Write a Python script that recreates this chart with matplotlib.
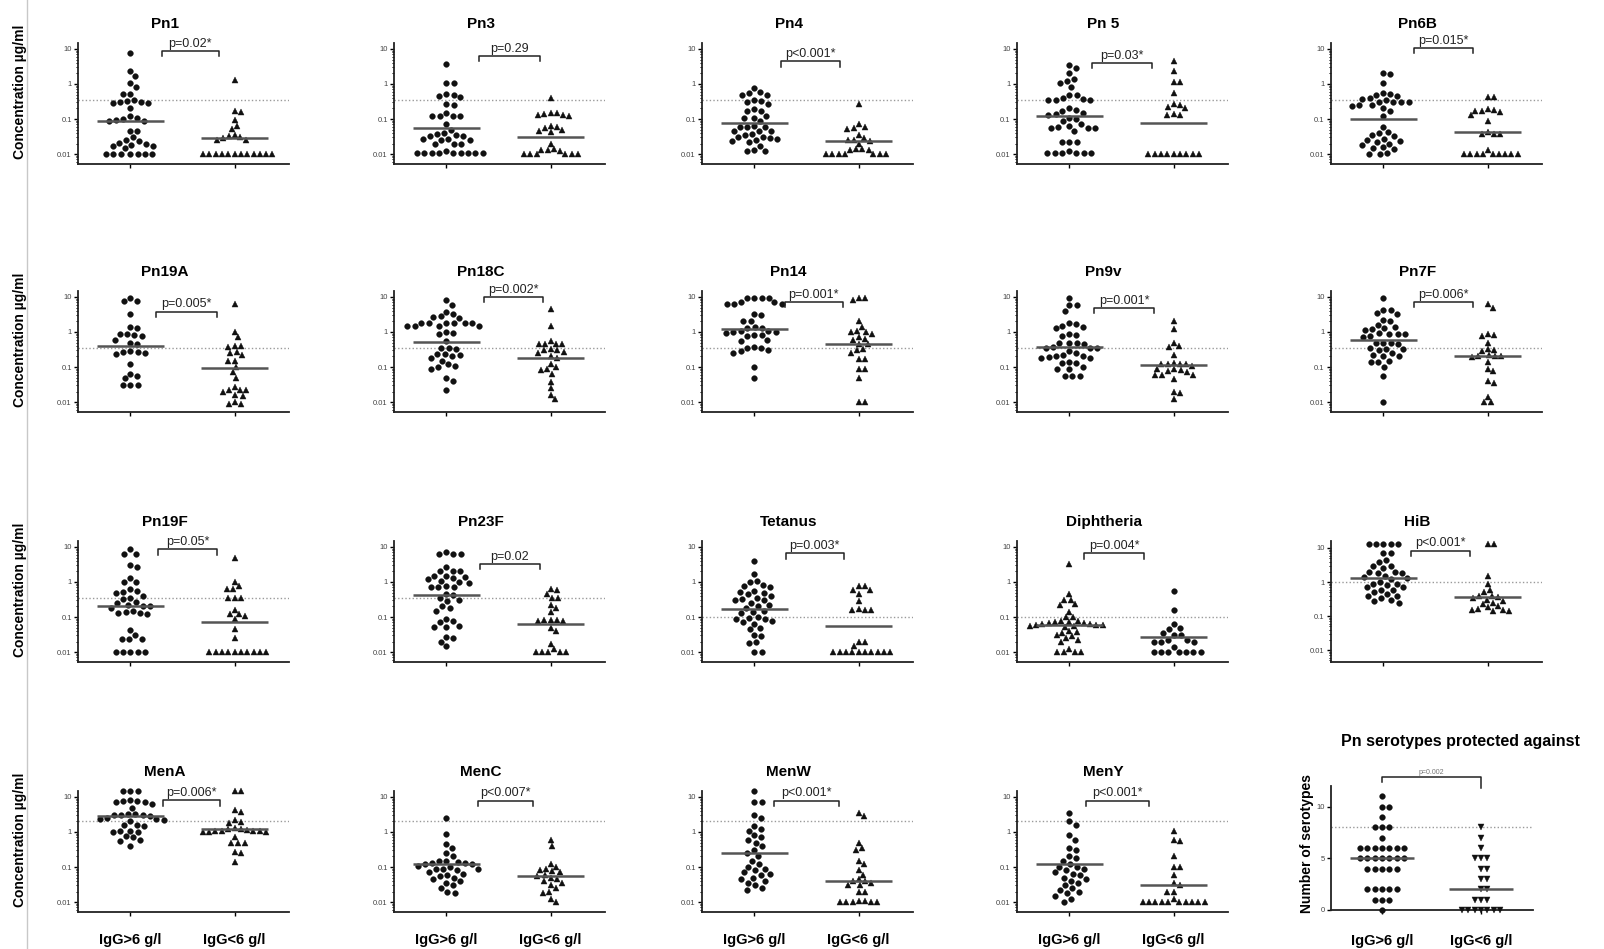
import numpy as np
import matplotlib
matplotlib.use("Agg")
import matplotlib.pyplot as plt
from matplotlib.lines import Line2D

plt.rcParams['font.family'] = ['Liberation Sans', 'DejaVu Sans']

#---------------- DATA ----------------

titles = ["Pn1", "Pn3", "Pn4", "Pn 5", "Pn6B",
          "Pn19A", "Pn18C", "Pn14", "Pn9v", "Pn7F",
          "Pn19F", "Pn23F", "Tetanus", "Diphtheria", "HiB",
          "MenA", "MenC", "MenW", "MenY"]
pvals = ["p=0.02*", "p=0.29", "p<0.001*", "p=0.03*", "p=0.015*",
         "p=0.005*", "p=0.002*", "p=0.001*", "p=0.001*", "p=0.006*",
         "p=0.05*", "p=0.02", "p=0.003*", "p=0.004*", "p<0.001*",
         "p=0.006*", "p<0.007*", "p<0.001*", "p<0.001*"]
thresholds = [0.35, 0.35, 0.35, 0.35, 0.35,
              0.35, 0.35, 0.35, 0.35, 0.35,
              0.35, 0.35, 0.1, 0.1, 1.0,
              2.0, 2.0, 2.0, 2.0]
median_hi = [0.085, 0.055, 0.075, 0.12, 0.1,
             0.4, 0.52, 1.2, 0.38, 0.6,
             0.2, 0.42, 0.17, 0.06, 1.35,
             2.8, 0.12, 0.25, 0.12]
median_lo = [0.028, 0.03, 0.023, 0.075, 0.043,
             0.095, 0.18, 0.45, 0.115, 0.2,
             0.072, 0.065, 0.055, 0.027, 0.37,
             1.2, 0.055, 0.04, 0.03]

pn1_hi = [7.5, 2.4, 1.7, 1.05, 0.82, 0.52, 0.52, 0.35, 0.33, 0.31, 0.30, 0.28, 0.28, 0.2,
          0.12, 0.1, 0.105, 0.095, 0.09, 0.085, 0.047, 0.045, 0.03, 0.025, 0.024, 0.021,
          0.019, 0.018, 0.017, 0.017, 0.015] + [0.01] * 7
pn1_lo = [1.3, 0.17, 0.16, 0.095, 0.065, 0.052, 0.036, 0.033, 0.03, 0.028, 0.026, 0.025] + [0.01] * 12

pn3_hi = [3.8, 1.1, 1.1, 0.52, 0.45, 0.42, 0.5, 0.26, 0.25, 0.15, 0.12, 0.12, 0.12, 0.12,
          0.07, 0.048, 0.04, 0.038, 0.035, 0.033, 0.033, 0.027, 0.026, 0.025, 0.027,
          0.02, 0.02, 0.02, 0.012] + [0.011] * 9
pn3_lo = [0.4, 0.15, 0.14, 0.13, 0.12, 0.13, 0.15, 0.06, 0.065, 0.055, 0.045, 0.042, 0.048,
          0.02, 0.013, 0.012, 0.013, 0.014] + [0.01] * 6

pn4_hi = [0.75, 0.58, 0.55, 0.5, 0.48, 0.34, 0.32, 0.3, 0.26, 0.19, 0.17, 0.17, 0.12, 0.11,
          0.11, 0.085, 0.065, 0.06, 0.06, 0.058, 0.045, 0.045, 0.045, 0.038, 0.035, 0.03,
          0.03, 0.028, 0.027, 0.025, 0.024, 0.022, 0.017, 0.012, 0.012, 0.013]
pn4_lo = [0.26, 0.07, 0.06, 0.055, 0.052, 0.035, 0.028, 0.026, 0.025, 0.024, 0.02, 0.014,
          0.013, 0.013, 0.014] + [0.01] * 7

pn5_hi = [3.5, 2.8, 2.0, 1.4, 1.2, 1.1, 0.8, 0.5, 0.48, 0.36, 0.35, 0.36, 0.38, 0.4, 0.18,
          0.2, 0.17, 0.14, 0.13, 0.15, 0.11, 0.1, 0.085, 0.065, 0.07, 0.06, 0.055, 0.055,
          0.055, 0.045, 0.022, 0.022, 0.022, 0.012] + [0.011] * 6
pn5_lo = [4.5, 2.3, 1.15, 1.15, 0.55, 0.25, 0.22, 0.2, 0.27, 0.13, 0.13, 0.14] + [0.01] * 9

pn6b_hi = [2.1, 1.9, 1.1, 0.55, 0.52, 0.5, 0.45, 0.4, 0.38, 0.35, 0.3, 0.3, 0.3, 0.3, 0.25,
           0.25, 0.24, 0.2, 0.17, 0.12, 0.06, 0.042, 0.04, 0.035, 0.033, 0.027, 0.025,
           0.024, 0.022, 0.02, 0.018, 0.016, 0.015, 0.014, 0.01, 0.011, 0.01]
pn6b_lo = [0.42, 0.42, 0.18, 0.17, 0.19, 0.16, 0.17, 0.13, 0.085, 0.042, 0.038, 0.038,
           0.038, 0.013] + [0.01] * 9

pn19a_hi = [9.5, 7.5, 7.5, 3.2, 1.4, 1.3, 0.9, 0.85, 0.8, 0.75, 0.6, 0.5, 0.45, 0.27, 0.27,
            0.25, 0.23, 0.28, 0.12, 0.065, 0.055, 0.048, 0.03, 0.03, 0.03]
pn19a_lo = [6.5, 1.0, 0.7, 0.4, 0.4, 0.38, 0.27, 0.25, 0.22, 0.15, 0.15, 0.1, 0.07, 0.05,
            0.027, 0.022, 0.022, 0.022, 0.02, 0.016, 0.015, 0.01, 0.009, 0.009]

pn18c_hi = [8.0, 6.0, 3.8, 3.2, 2.8, 2.5, 2.6, 1.8, 1.8, 1.8, 1.8, 1.8, 1.8, 1.5, 1.5, 1.5,
            1.5, 1.0, 0.95, 0.85, 0.55, 0.35, 0.35, 0.33, 0.24, 0.23, 0.22, 0.2, 0.18,
            0.15, 0.12, 0.11, 0.1, 0.09, 0.05, 0.04, 0.022]
pn18c_lo = [4.5, 1.5, 0.55, 0.45, 0.45, 0.45, 0.45, 0.33, 0.3, 0.3, 0.27, 0.25, 0.2, 0.18,
            0.12, 0.1, 0.08, 0.085, 0.065, 0.038, 0.025, 0.016, 0.012]

pn14_hi = [9.5, 9.5, 9.5, 9.5, 7.0, 6.5, 6.5, 6.5, 7.0, 3.2, 3.0, 2.1, 2.0, 1.4, 1.3, 1.3,
           1.1, 1.05, 1.0, 1.0, 0.95, 0.8, 0.8, 0.75, 0.6, 0.55, 0.38, 0.35, 0.35, 0.3,
           0.28, 0.25, 0.1, 0.05]
pn14_lo = [9.5, 8.0, 9.5, 2.0, 1.4, 1.1, 1.0, 1.0, 0.9, 0.7, 0.65, 0.6, 0.45, 0.45, 0.33,
           0.3, 0.25, 0.17, 0.17, 0.085, 0.085, 0.05, 0.01, 0.01]

pn9v_hi = [9.5, 5.8, 5.8, 3.9, 1.7, 1.5, 1.8, 1.4, 1.3, 0.85, 0.8, 0.75, 0.5, 0.48, 0.48,
           0.45, 0.38, 0.36, 0.35, 0.35, 0.28, 0.25, 0.22, 0.2, 0.19, 0.18, 0.2, 0.18,
           0.14, 0.13, 0.13, 0.1, 0.09, 0.085, 0.055, 0.055, 0.055]
pn9v_lo = [2.0, 1.2, 0.5, 0.4, 0.38, 0.22, 0.13, 0.12, 0.12, 0.11, 0.12, 0.12, 0.09, 0.085,
           0.08, 0.075, 0.07, 0.06, 0.06, 0.06, 0.045, 0.02, 0.018, 0.012]

pn7f_hi = [9.5, 4.3, 4.3, 3.5, 3.3, 2.2, 2.0, 1.6, 1.4, 1.3, 1.2, 1.15, 0.9, 0.95, 0.9, 0.85,
           0.75, 0.7, 0.5, 0.48, 0.5, 0.45, 0.35, 0.33, 0.32, 0.3, 0.25, 0.22, 0.21, 0.2,
           0.15, 0.14, 0.14, 0.1, 0.055, 0.01]
pn7f_lo = [6.5, 5.0, 0.9, 0.8, 0.75, 0.5, 0.3, 0.28, 0.33, 0.22, 0.2, 0.2, 0.19, 0.2, 0.14,
           0.09, 0.075, 0.04, 0.036, 0.014, 0.01, 0.01]

pn19f_hi = [8.5, 6.5, 6.5, 3.0, 2.6, 1.3, 1.0, 1.0, 0.62, 0.55, 0.52, 0.5, 0.4, 0.35, 0.32,
            0.27, 0.25, 0.22, 0.2, 0.18, 0.21, 0.14, 0.13, 0.12, 0.13, 0.15, 0.042, 0.03,
            0.023, 0.023, 0.024] + [0.01] * 5
pn19f_lo = [5.0, 1.0, 0.75, 0.65, 0.65, 0.35, 0.35, 0.35, 0.16, 0.12, 0.11, 0.12, 0.085,
            0.045, 0.025] + [0.01] * 10

pn23f_hi = [7.0, 6.5, 6.2, 6.5, 2.6, 2.1, 2.1, 2.0, 1.5, 1.4, 1.3, 1.5, 1.2, 1.0, 0.95, 1.1,
            0.75, 0.7, 0.72, 0.7, 0.45, 0.42, 0.35, 0.3, 0.28, 0.2, 0.18, 0.15, 0.085,
            0.075, 0.07, 0.052, 0.052, 0.055, 0.027, 0.025, 0.02, 0.015]
pn23f_lo = [0.62, 0.6, 0.45, 0.35, 0.34, 0.22, 0.18, 0.14, 0.08, 0.08, 0.075, 0.08, 0.075,
            0.05, 0.04, 0.017, 0.012] + [0.01] * 5

tet_hi = [4.0, 1.7, 1.1, 1.0, 0.8, 0.75, 0.7, 0.55, 0.52, 0.5, 0.45, 0.4, 0.35, 0.32, 0.3,
          0.3, 0.25, 0.22, 0.2, 0.18, 0.15, 0.13, 0.14, 0.1, 0.095, 0.09, 0.09, 0.075, 0.07,
          0.065, 0.05, 0.045, 0.03, 0.028, 0.019, 0.018, 0.01, 0.01]
tet_lo = [0.75, 0.75, 0.6, 0.6, 0.45, 0.28, 0.17, 0.16, 0.16, 0.16, 0.02, 0.02, 0.015] + [0.01] * 10

dip_hi = [3.2, 0.45, 0.3, 0.3, 0.23, 0.22, 0.14, 0.1, 0.1, 0.078, 0.072, 0.068, 0.065,
          0.07, 0.063, 0.075, 0.066, 0.06, 0.058, 0.06, 0.055, 0.053, 0.056, 0.04, 0.038,
          0.036, 0.03, 0.028, 0.025, 0.022, 0.02, 0.012, 0.01, 0.01, 0.01, 0.01]
dip_lo = [0.55, 0.16, 0.065, 0.05, 0.045, 0.035, 0.03, 0.03, 0.022, 0.02, 0.02, 0.02, 0.022,
          0.014] + [0.01] * 7

hib_hi = [13, 13, 13, 13, 13, 7, 7, 4, 4.5, 3, 3, 2.5, 2, 2, 1.8, 1.8, 1.5, 1.4, 1.3, 1.2,
          1.0, 0.9, 0.9, 0.8, 0.7, 0.7, 0.6, 0.6, 0.5, 0.45, 0.4, 0.4, 0.35, 0.3, 0.28, 0.25]
hib_lo = [13, 13, 1.5, 0.9, 0.6, 0.5, 0.4, 0.38, 0.36, 0.35, 0.3, 0.28, 0.25, 0.22, 0.2,
          0.18, 0.16, 0.15, 0.15, 0.14, 0.14]

mena_hi = [15, 15, 15, 8, 7.5, 7.5, 7, 7, 6.5, 5, 3.3, 3.0, 3.0, 2.9, 3.2, 3.0, 2.5, 2.3,
           2.0, 2.3, 2.2, 1.6, 1.6, 1.5, 1.1, 1.0, 1.0, 1.05, 0.75, 0.7, 0.6, 0.55, 0.4]
mena_lo = [15, 15, 4.2, 3.8, 2.2, 1.9, 1.8, 1.3, 1.25, 1.2, 1.15, 1.1, 1.05, 1.0, 1.0, 1.0,
           1.05, 1.1, 0.7, 0.5, 0.5, 0.48, 0.27, 0.25, 0.14]

menc_hi = [2.5, 0.9, 0.45, 0.35, 0.25, 0.2, 0.15, 0.15, 0.13, 0.12, 0.11, 0.14, 0.12, 0.13,
           0.1, 0.09, 0.09, 0.085, 0.08, 0.07, 0.065, 0.06, 0.055, 0.05, 0.045, 0.04, 0.035,
           0.03, 0.025, 0.02, 0.018]
menc_lo = [0.6, 0.4, 0.12, 0.1, 0.09, 0.08, 0.07, 0.075, 0.06, 0.055, 0.05, 0.045, 0.04,
           0.035, 0.03, 0.025, 0.02, 0.018, 0.012, 0.01]

menw_hi = [15, 7, 7, 3, 2.5, 1.5, 1.2, 1.1, 0.8, 0.7, 0.6, 0.5, 0.4, 0.3, 0.25, 0.2, 0.15,
           0.12, 0.1, 0.09, 0.08, 0.07, 0.065, 0.06, 0.05, 0.045, 0.04, 0.035, 0.03, 0.025,
           0.022]
menw_lo = [3.5, 2.8, 0.5, 0.35, 0.3, 0.15, 0.12, 0.08, 0.06, 0.045, 0.04, 0.04, 0.035, 0.03,
           0.03, 0.02, 0.02, 0.011, 0.01, 0.01, 0.01, 0.01, 0.01, 0.011]

meny_hi = [3.5, 2.0, 1.6, 0.8, 0.6, 0.35, 0.3, 0.2, 0.18, 0.15, 0.12, 0.1, 0.1, 0.09, 0.08,
           0.07, 0.065, 0.06, 0.05, 0.045, 0.04, 0.035, 0.03, 0.025, 0.022, 0.02, 0.018,
           0.015, 0.012, 0.01]
meny_lo = [1.1, 0.6, 0.55, 0.2, 0.1, 0.1, 0.06, 0.035, 0.03, 0.02, 0.02, 0.012] + [0.01] * 10

groups_hi = [pn1_hi, pn3_hi, pn4_hi, pn5_hi, pn6b_hi, pn19a_hi, pn18c_hi, pn14_hi, pn9v_hi,
             pn7f_hi, pn19f_hi, pn23f_hi, tet_hi, dip_hi, hib_hi, mena_hi, menc_hi, menw_hi,
             meny_hi]
groups_lo = [pn1_lo, pn3_lo, pn4_lo, pn5_lo, pn6b_lo, pn19a_lo, pn18c_lo, pn14_lo, pn9v_lo,
             pn7f_lo, pn19f_lo, pn23f_lo, tet_lo, dip_lo, hib_lo, mena_lo, menc_lo, menw_lo,
             meny_lo]

# Pn serotypes protected against (number of serotypes per patient)
sero_hi = [11, 10, 10, 9, 8, 8, 8, 7, 6, 6, 6, 6, 6, 6, 6, 5, 5, 5, 5, 5, 5, 5,
           4, 4, 4, 4, 4, 2, 2, 2, 2, 2, 1, 1, 1, 0]
sero_lo = [8, 7, 6, 5, 5, 5, 4, 4, 3, 3, 2, 2, 1, 1, 1, 0, 0, 0, 0, 0, 0, 0]
sero_median = [5, 2]

xlabels = ["IgG>6 g/l", "IgG<6 g/l"]

# annotation placement (bracket x range in group units, bracket height in axes fraction)
bracket_x = [(0.30, 0.85), (0.31, 0.90), (0.26, 0.82), (0.22, 0.79), (0.29, 0.86),
             (0.25, 0.83), (0.36, 0.93), (0.29, 0.85), (0.24, 0.81), (0.29, 0.86),
             (0.27, 0.83), (0.32, 0.90), (0.30, 0.86), (0.14, 0.72), (0.27, 0.83),
             (0.31, 0.86), (0.30, 0.83), (0.19, 0.81), (0.16, 0.76)]
bracket_y = [0.934, 0.893, 0.85, 0.835, 0.96,
             0.83, 0.95, 0.91, 0.86, 0.91,
             0.93, 0.81, 0.90, 0.90, 0.92,
             0.925, 0.92, 0.92, 0.92]

#---------------- HELPERS ----------------

W, H = 1604, 949
col_left = [78, 394, 702, 1017, 1331]
row_bottom = [164, 412, 662, 912]
AX_W, AX_H = 211, 121


def swarm_x(ax, vals, center, d):
    # simple beeswarm in pixel space
    pts = ax.transData.transform(np.column_stack([np.full(len(vals), center), vals]))
    ys = pts[:, 1]
    xc = pts[0, 0]
    xs = np.zeros(len(vals))
    placed = []
    for i in np.argsort(-ys, kind="stable"):
        y = ys[i]
        cands = [0.0]
        for px, py in placed:
            dy = y - py
            if abs(dy) < d:
                dx = np.sqrt(d * d - dy * dy)
                cands += [px + dx, px - dx]
        cands.sort(key=lambda c: (round(abs(c), 3), -c))
        for c in cands:
            if all((c - px) ** 2 + (y - py) ** 2 >= d * d - 1e-6 for px, py in placed):
                xs[i] = c
                break
        placed.append((xs[i], y))
    inv = ax.transData.inverted()
    return inv.transform(np.column_stack([xc + xs, ys]))[:, 0]


def draw_group(ax, vals, center, marker, median):
    if marker == "o":
        d, ms = 7.3, 4.1
    else:
        d, ms = 6.3, 4.5
    xs = swarm_x(ax, vals, center, d)
    ax.plot(xs, vals, ls="none", marker=marker, ms=ms, color="#111111",
            mec="#111111", mew=0.3, clip_on=False, zorder=3)
    ax.plot([center - 0.32, center + 0.32], [median, median], color="#555555",
            lw=1.8, zorder=4, solid_capstyle="butt")


def style_axes(ax):
    for s in ["top", "right"]:
        ax.spines[s].set_visible(False)
    for s in ["left", "bottom"]:
        ax.spines[s].set_linewidth(1.3)
        ax.spines[s].set_color("#222222")
    ax.tick_params(axis="y", which="major", length=3, width=1, labelsize=5.5,
                   labelcolor="#444444", pad=1.5)
    ax.tick_params(axis="y", which="minor", length=1.6, width=0.7)
    ax.tick_params(axis="x", length=3, width=1, labelsize=10.5, pad=12)


def bracket(ax, x0, x1, yf, text, leg_l=0.045, leg_r=0.045, fs=9, color="#222222"):
    tr = ax.get_xaxis_transform()
    ax.plot([x0, x0, x1, x1], [yf - leg_l, yf, yf, yf - leg_r], color="#222222",
            lw=1.1, transform=tr, clip_on=False, zorder=5)
    ax.text((x0 + x1) / 2, yf + 0.01, text, transform=tr, ha="center", va="bottom",
            fontsize=fs, color=color)


#---------------- FIGURE ----------------

fig = plt.figure(figsize=(W / 100, H / 100), dpi=100)
fig.add_artist(Line2D([27 / W, 27 / W], [0, 1], color="#c8c8c8", lw=1.0))

for k in range(19):
    r, c = divmod(k, 5)
    ax = fig.add_axes([col_left[c] / W, 1 - row_bottom[r] / H, AX_W / W, AX_H / H])
    ax.set_yscale("log")
    if titles[k] == "HiB":
        ax.set_ylim(0.0045, 16)
    else:
        ax.set_ylim(0.0052, 14.8)
    ax.set_xlim(-0.5, 1.52)
    ax.set_yticks([0.01, 0.1, 1, 10], ["0.01", "0.1", "1", "10"])
    ax.set_xticks([0, 1])
    if r == 3:
        ax.set_xticklabels(xlabels, fontweight="bold")
    else:
        ax.set_xticklabels(["", ""])
    style_axes(ax)

    ax.axhline(thresholds[k], color="#9a9a9a", lw=1.0, ls=(0, (1, 1.6)), zorder=1)

    m_hi, m_lo = "o", "^"
    if titles[k] == "Diphtheria":
        m_hi, m_lo = "^", "o"
    draw_group(ax, groups_hi[k], 0, m_hi, median_hi[k])
    draw_group(ax, groups_lo[k], 1, m_lo, median_lo[k])

    bracket(ax, bracket_x[k][0], bracket_x[k][1], bracket_y[k], pvals[k])
    ax.text(0.41, 1 + 19 / AX_H, titles[k], transform=ax.transAxes, ha="center",
            va="center", fontsize=11, fontweight="bold")
    if c == 0:
        ax.text(-0.275, 0.6, "Concentration µg/ml", transform=ax.transAxes, rotation=90,
                ha="center", va="center", fontsize=10, fontweight="bold")

# last panel: number of serotypes
ax = fig.add_axes([1331 / W, 1 - 910 / H, 202 / W, 124 / H])
ax.set_ylim(0, 12)
ax.set_xlim(-0.515, 1.525)
ax.set_yticks([0, 5, 10], ["0", "5", "10"])
ax.set_xticks([0, 1])
ax.set_xticklabels(xlabels, fontweight="bold")
style_axes(ax)
ax.tick_params(axis="x", pad=14)
ax.axhline(8, color="#9a9a9a", lw=1.0, ls=(0, (1, 1.6)), zorder=1)
draw_group(ax, sero_hi, 0, "o", sero_median[0])
draw_group(ax, sero_lo, 1, "v", sero_median[1])
bracket(ax, 0, 1, 1.07, "p=0.002", leg_l=0.04, leg_r=0.09, fs=5, color="#777777")
ax.text(0.64, 1.355, "Pn serotypes protected against", transform=ax.transAxes,
        ha="center", va="center", fontsize=11.5, fontweight="bold")
ax.text(-0.119, 0.54, "Number of serotypes", transform=ax.transAxes, rotation=90,
        ha="center", va="center", fontsize=10, fontweight="bold")

fig.savefig("out.png", dpi=100)
